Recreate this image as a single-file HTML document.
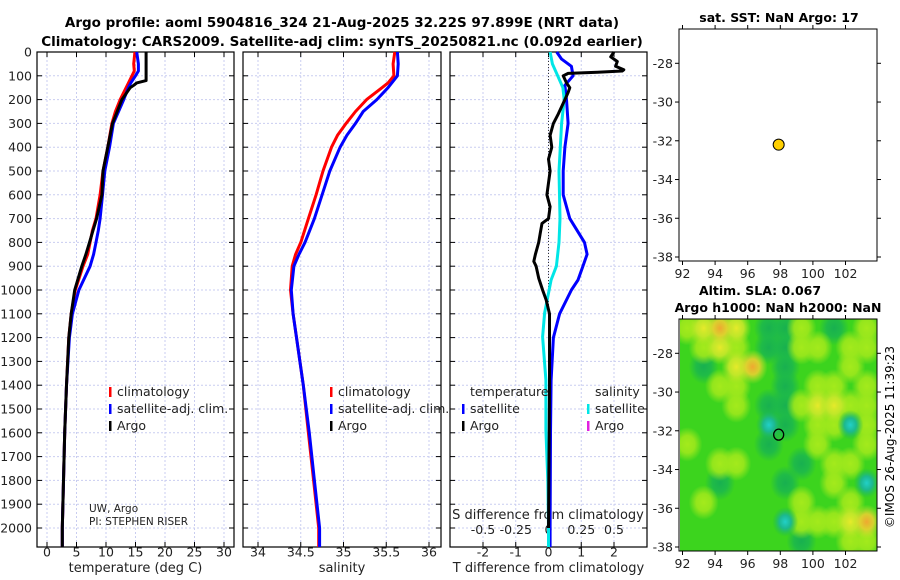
<!DOCTYPE html>
<html><head><meta charset="utf-8"><style>
html,body{margin:0;padding:0;background:#fff;}
svg{display:block;font-family:"DejaVu Sans","Liberation Sans",sans-serif;}
</style></head><body>
<svg id="fig" width="900" height="580" viewBox="0 0 900 580" xmlns="http://www.w3.org/2000/svg">
<defs>
<radialGradient id="gv0"><stop offset="0" stop-color="#22d0c8"/><stop offset="0.45" stop-color="#1cb890"/><stop offset="1" stop-color="#1cb84c" stop-opacity="0"/></radialGradient>
<radialGradient id="gv1"><stop offset="0" stop-color="#18b050"/><stop offset="0.5" stop-color="#1cb84c" stop-opacity="0.9"/><stop offset="1" stop-color="#1cb84c" stop-opacity="0"/></radialGradient>
<radialGradient id="gv3"><stop offset="0" stop-color="#a4ea1c"/><stop offset="0.5" stop-color="#9ee81c" stop-opacity="0.9"/><stop offset="1" stop-color="#9ee81c" stop-opacity="0"/></radialGradient>
<radialGradient id="gv4"><stop offset="0" stop-color="#e6ea2a"/><stop offset="0.5" stop-color="#c8e82a" stop-opacity="0.9"/><stop offset="1" stop-color="#b0e820" stop-opacity="0"/></radialGradient>
<radialGradient id="gv5"><stop offset="0" stop-color="#f0a830"/><stop offset="0.45" stop-color="#e8d030" stop-opacity="0.9"/><stop offset="1" stop-color="#c8e82a" stop-opacity="0"/></radialGradient>
<clipPath id="mapclip"><rect x="680" y="319" width="197" height="232"/></clipPath>
</defs>
<text x="342" y="27" text-anchor="middle" font-size="13.5" font-weight="bold">Argo profile: aoml 5904816_324 21-Aug-2025 32.22S 97.899E (NRT data)</text>
<text x="342" y="46" text-anchor="middle" font-size="13.5" font-weight="bold">Climatology: CARS2009. Satellite-adj clim: synTS_20250821.nc (0.092d earlier)</text>
<text x="779" y="22" text-anchor="middle" font-size="12.5" font-weight="bold">sat. SST: NaN Argo: 17</text>
<text x="760" y="295" text-anchor="middle" font-size="12.5" font-weight="bold">Altim. SLA: 0.067</text>
<text x="778" y="312" text-anchor="middle" font-size="12.5" font-weight="bold">Argo h1000: NaN h2000: NaN</text>
<text transform="translate(894,437) rotate(-90)" text-anchor="middle" font-size="12">©IMOS 26-Aug-2025 11:39:23</text>
<g id="g"></g>
</svg>
<script>
// ---------- data ----------
const depthTicks = [0,100,200,300,400,500,600,700,800,900,1000,1100,1200,1300,1400,1500,1600,1700,1800,1900,2000];
const tempTicks = [0,5,10,15,20,25,30];
const salTicks = [34,34.5,35,35.5,36];
const salTickLabels = ["34","34.5","35","35.5","36"];
const tdiffTicks = [-2,-1,0,1,2];
const sdiffTicks = [-0.5,-0.25,0,0.25,0.5];
const sdiffLabels = ["-0.5","-0.25","0","0.25","0.5"];

const tClimDepth = [0,50,80,100,150,200,250,300,400,500,600,700,750,800,850,900,1000,1100,1200,1400,1600,1800,2000,2080];
const tClimVal   = [14.9,14.7,14.8,14.4,13.4,12.4,11.6,11.0,10.3,9.5,9.0,8.3,7.7,7.3,6.9,6.1,4.8,4.1,3.7,3.3,3.0,2.8,2.6,2.6];
const tSatDepth  = [0,50,80,100,130,150,200,300,400,500,600,700,750,800,850,900,1000,1100,1200,1400,1600,1800,2000,2080];
const tSatVal    = [15.2,15.5,15.5,15.0,14.2,13.8,13.0,11.25,10.6,9.8,9.4,9.0,8.7,8.3,7.9,7.3,5.4,4.3,3.8,3.3,3.0,2.8,2.6,2.6];
const tArgoDepth = [0,60,120,130,140,150,200,300,400,500,600,700,750,800,850,900,1000,1100,1200,1400,1600,1800,2000,2080];
const tArgoVal   = [16.8,16.8,16.8,15.2,14.7,14.1,12.7,11.1,10.3,9.5,9.3,8.4,7.8,7.2,6.6,5.9,4.7,4.1,3.7,3.3,3.0,2.8,2.6,2.6];

const sClimDepth = [0,50,100,130,150,200,250,300,350,400,500,600,700,800,850,900,1000,1100,1200,1400,1600,1800,2000,2080];
const sClimVal   = [35.6,35.58,35.59,35.52,35.45,35.27,35.14,35.03,34.93,34.86,34.76,34.68,34.59,34.5,34.44,34.4,34.38,34.41,34.45,34.53,34.59,34.65,34.71,34.71];
const sSatDepth  = [0,50,100,150,200,250,300,350,400,500,600,700,800,850,900,1000,1100,1200,1400,1600,1800,2000,2080];
const sSatVal    = [35.63,35.64,35.63,35.52,35.39,35.23,35.14,35.04,34.96,34.84,34.75,34.66,34.55,34.48,34.42,34.39,34.41,34.45,34.53,34.6,34.66,34.72,34.72];

const dTSatDepth = [0,30,60,100,140,200,300,400,500,600,700,800,850,900,958,1000,1100,1200,1380,1600,2000,2080];
const dTSatVal   = [0.25,0.4,0.7,0.75,0.5,0.55,0.6,0.5,0.45,0.45,0.65,1.1,1.18,1.05,0.9,0.7,0.34,0.15,0.08,0.06,0.05,0.05];
const dSSatDepth = [0,50,100,150,200,300,500,700,800,900,958,1097,1197,1378,1588,1798,2000,2080];
const dSSatVal   = [0.012,0.03,0.07,0.11,0.12,0.1,0.08,0.088,0.08,0.06,0.02,-0.03,-0.045,-0.02,-0.02,-0.005,0,0];
const dTArgoDepth = [0,20,40,60,75,80,85,90,100,130,150,170,200,230,260,300,350,400,450,500,550,600,650,700,720,760,800,850,880,900,950,1000,1042,1100,1200,1400,1600,1800,2000];
const dTArgoVal   = [2.0,1.9,2.1,2.05,2.3,2.25,1.5,0.6,0.45,0.55,0.65,0.6,0.5,0.4,0.3,0.15,0.05,0.1,0.0,0.05,0.0,-0.05,0.05,0.0,-0.2,-0.25,-0.3,-0.4,-0.45,-0.38,-0.3,-0.18,-0.07,0.03,0.03,0.03,0.02,0.01,0.0];

const mapLonTicks = [92,94,96,98,100,102];
const mapLatTicks = [-28,-30,-32,-34,-36,-38];
const argoLon = 97.9;
const argoLat = -32.2;
// SLA field levels (rows from north -26 to south -38, cols lon 91.8..103.8, 1 deg)
const slaRow0  = [3,4,5,4,2,1,1,3,2,1,2,3];
const slaRow1  = [2,3,4,3,2,1,1,3,3,2,3,3];
const slaRow2  = [2,1,2,4,5,2,1,2,2,2,3,2];
const slaRow3  = [2,2,3,3,2,2,1,2,3,3,2,3];
const slaRow4  = [2,2,2,3,2,1,1,3,4,4,3,3];
const slaRow5  = [2,2,2,2,2,0,1,2,3,3,0,3];
const slaRow6  = [3,2,2,2,2,1,2,2,3,2,2,3];
const slaRow7  = [2,2,3,3,2,2,2,1,2,3,3,2];
const slaRow8  = [2,2,1,2,2,2,1,2,2,3,2,0];
const slaRow9  = [2,3,2,2,2,2,2,3,2,2,3,2];
const slaRow10 = [2,2,2,2,2,2,0,3,3,3,4,5];
const slaRow11 = [2,2,2,2,2,2,2,1,2,2,3,3];
const slaRows = [slaRow0,slaRow1,slaRow2,slaRow3,slaRow4,slaRow5,slaRow6,slaRow7,slaRow8,slaRow9,slaRow10,slaRow11];

// ---------- helpers ----------
const NS="http://www.w3.org/2000/svg";
const root=document.getElementById('g');
function mk(tag,attrs,parent){const e=document.createElementNS(NS,tag);for(const k in attrs)e.setAttribute(k,attrs[k]);(parent||root).appendChild(e);return e;}
function lin(d0,d1,r0,r1){return v=>r0+(v-d0)*(r1-r0)/(d1-d0);}

const PY0=52, PY1=547;
const yD = lin(0,2000,52,528);
const panels=[
 {x0:37,x1:234,sx:lin(0,30,47,224),ticks:tempTicks,labels:tempTicks.map(String),xlabel:"temperature (deg C)",name:"temperature"},
 {x0:243,x1:441,sx:lin(34,36,258,429),ticks:salTicks,labels:salTickLabels,xlabel:"salinity",name:"salinity"},
 {x0:450,x1:647,sx:lin(-2,2,483,614),ticks:tdiffTicks,labels:tdiffTicks.map(String),xlabel:"T difference from climatology",name:"difference"}
];
panels.forEach((p,i)=>{
  depthTicks.forEach(d=>{
    const l=mk('line',{x1:p.x0,x2:p.x1,y1:yD(d),y2:yD(d),stroke:'#c9cdf0','stroke-width':1,'stroke-dasharray':'2,2'});
    
    
  });
  p.ticks.forEach(t=>{
    const x=p.sx(t);
    const l=mk('line',{x1:x,x2:x,y1:PY0,y2:PY1,stroke:'#c9cdf0','stroke-width':1,'stroke-dasharray':'2,2'});
    
    
    const tk=mk('line',{x1:x,x2:x,y1:PY1,y2:PY1-5,stroke:'#000'});
    
    
    const tk2=mk('line',{x1:x,x2:x,y1:PY0,y2:PY0+5,stroke:'#000'});
    
    
  });
  depthTicks.forEach(d=>{
    const a=mk('line',{x1:p.x0,x2:p.x0+5,y1:yD(d),y2:yD(d),stroke:'#000'});
    
    
    const b=mk('line',{x1:p.x1,x2:p.x1-5,y1:yD(d),y2:yD(d),stroke:'#000'});
    
    
  });
  const fr=mk('rect',{x:p.x0,y:PY0,width:p.x1-p.x0,height:PY1-PY0,fill:'none',stroke:'#000','stroke-width':1.2});
  
  
  if(i===0){
    depthTicks.forEach(d=>{
      const t=mk('text',{x:p.x0-5,y:yD(d)+4.5,'text-anchor':'end','font-size':12.5,fill:'#222'});
      t.textContent=d;
      
      
    });
  }
  p.ticks.forEach((t,j)=>{
    const e=mk('text',{x:p.sx(t),y:PY1+9.5,'text-anchor':'middle','font-size':12.5,fill:'#222'});
    e.textContent=p.labels[j];
    
    
  });
  const xl=mk('text',{x:(p.x0+p.x1)/2,y:572,'text-anchor':'middle','font-size':13,fill:'#222'});
  xl.textContent=p.xlabel;
  
  
});

const pd=panels[2];
const sdx=lin(-0.5,0.5,483,614);
const zl=mk('line',{x1:pd.sx(0),x2:pd.sx(0),y1:PY0,y2:PY1,stroke:'#333','stroke-dasharray':'1,2'});


const st=mk('text',{x:548,y:519,'text-anchor':'middle','font-size':13,fill:'#222'});
st.textContent='S difference from climatology';


sdiffTicks.forEach((t,j)=>{
  const e=mk('text',{x:sdx(t),y:534,'text-anchor':'middle','font-size':12.5,fill:'#222'});
  e.textContent=sdiffLabels[j];
  
  
});

function line(depths,vals,sx,color,name,w){
  const pts=depths.map((d,i)=>sx(vals[i]).toFixed(1)+','+yD(d).toFixed(1)).join(' ');
  const e=mk('polyline',{points:pts,fill:'none',stroke:color,'stroke-width':w||3,'stroke-linejoin':'round'});
  
  
}
const tp=panels[0].sx, sp=panels[1].sx;
line(tClimDepth,tClimVal,tp,'#ff0000','temp-climatology-line');
line(tSatDepth,tSatVal,tp,'#0000ff','temp-satellite-line');
line(tArgoDepth,tArgoVal,tp,'#000','temp-argo-line');
line(sClimDepth,sClimVal,sp,'#ff0000','sal-climatology-line');
line(sSatDepth,sSatVal,sp,'#0000ff','sal-satellite-line');
line(dTSatDepth,dTSatVal,pd.sx,'#0000ff','t-diff-satellite-line');
line(dSSatDepth,dSSatVal,sdx,'#00e6e6','s-diff-satellite-line');
line(dTArgoDepth,dTArgoVal,pd.sx,'#000','t-diff-argo-line');

function legendItem(x,y,color,label,name){
  const r=mk('rect',{x:x,y:y-9,width:2.5,height:10,fill:color});
  
  
  const t=mk('text',{x:x+8,y:y,'font-size':12.5,fill:'#222'});
  t.textContent=label;
  
  
}
legendItem(109,396,'#ff0000','climatology','legend-temp-climatology');
legendItem(109,413,'#0000ff','satellite-adj. clim.','legend-temp-satellite');
legendItem(109,430,'#000','Argo','legend-temp-argo');
legendItem(330,396,'#ff0000','climatology','legend-sal-climatology');
legendItem(330,413,'#0000ff','satellite-adj. clim.','legend-sal-satellite');
legendItem(330,430,'#000','Argo','legend-sal-argo');
const lt=mk('text',{x:470,y:396,'font-size':12.5,fill:'#222'});lt.textContent='temperature';


const ls=mk('text',{x:595,y:396,'font-size':12.5,fill:'#222'});ls.textContent='salinity';


legendItem(462,413,'#0000ff','satellite','legend-tdiff-satellite');
legendItem(462,430,'#000','Argo','legend-tdiff-argo');
legendItem(587,413,'#00e6e6','satellite','legend-sdiff-satellite');
legendItem(587,430,'#e020e0','Argo','legend-sdiff-argo');
const pi1=mk('text',{x:89,y:512,'font-size':10.5,fill:'#222'});pi1.textContent='UW, Argo';


const pi2=mk('text',{x:89,y:525,'font-size':10.5,fill:'#222'});pi2.textContent='PI: STEPHEN RISER';



// ---------- maps ----------
const mx=lin(92,102,682.5,845.5);
const maps=[{y0:29,y1:261,name:'sst-map'},{y0:319,y1:551,name:'sla-map'}];
maps.forEach((m,mi)=>{
  const my=lin(-28,-38,m.y0+34.3,m.y0+228);
  if(mi===1){
    const heat=mk('g',{'clip-path':'url(#mapclip)'});
    
    
    const bg=mk('rect',{x:670,y:310,width:220,height:250,fill:'#3cd41e'},heat);
    
    
    // draw lighter/darker anomalies as soft blobs; order so strongest appear on top
    [1,3,4,5,0].forEach(level=>{
      slaRows.forEach((row,r)=>{
        row.forEach((v,c)=>{
          if(v!==level) return;
          const cx=mx(91.8+c+0.5), cy=my(-26.2-r-0.5);
          const rad = level===0?13:15;
          const e=mk('ellipse',{cx:cx,cy:cy,rx:rad,ry:rad*1.15,fill:'url(#gv'+level+')'},heat);
          
          
        });
      });
    });
  }
  const fr=mk('rect',{x:679,y:m.y0,width:198,height:m.y1-m.y0,fill:'none',stroke:'#000','stroke-width':1});
  
  
  mapLonTicks.forEach(l=>{
    const x=mx(l);
    const a=mk('line',{x1:x,x2:x,y1:m.y1,y2:m.y1+4,stroke:'#000'});
    
    
    const b=mk('line',{x1:x,x2:x,y1:m.y0,y2:m.y0-4,stroke:'#000'});
    
    
    const t=mk('text',{x:x,y:m.y1+17,'text-anchor':'middle','font-size':12.5,fill:'#222'});
    t.textContent=l;
    
    
  });
  mapLatTicks.forEach(l=>{
    const y=my(l);
    const a=mk('line',{x1:679,x2:675,y1:y,y2:y,stroke:'#000'});
    
    
    const b=mk('line',{x1:877,x2:881,y1:y,y2:y,stroke:'#000'});
    
    
    const t=mk('text',{x:673,y:y+4.5,'text-anchor':'end','font-size':12.5,fill:'#222'});
    t.textContent=l;
    
    
  });
  if(mi===0){
    const c=mk('circle',{cx:mx(argoLon),cy:my(argoLat),r:5.5,fill:'#ffd000',stroke:'#000','stroke-width':1});
    
    
  } else {
    const c=mk('ellipse',{cx:mx(argoLon),cy:my(argoLat),rx:5,ry:5.5,fill:'none',stroke:'#000','stroke-width':1.3});
    
    
  }
});
</script>
</body></html>
